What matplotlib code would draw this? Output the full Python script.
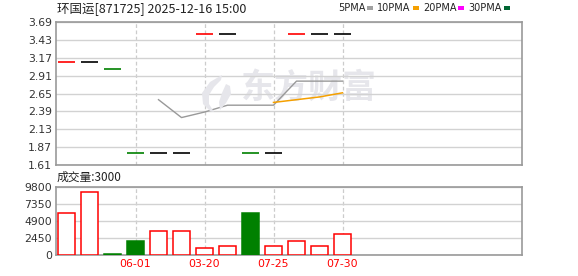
import matplotlib
matplotlib.use('Agg')
import matplotlib.pyplot as plt
from matplotlib.patches import Polygon, Rectangle

plt.rcParams['font.family'] = ['Noto Sans CJK SC', 'DejaVu Sans']

# ---- data ----
idx = list(range(13))
price = [3.11, 3.11, 3.01, 1.79, 1.79, 1.79, 3.52, 3.52, 1.79, 1.79, 3.52, 3.52, 3.52]
candle_colors = ['#ff0000', '#000000', '#008000', '#008000', '#000000', '#000000',
                 '#ff0000', '#000000', '#008000', '#000000', '#ff0000', '#000000', '#000000']
volume = [6000, 9150, 200, 2000, 3500, 3500, 1000, 1400, 6000, 1400, 2000, 1400, 3000]
vol_up = [True, True, False, False, True, True, True, True, False, True, True, True, True]
ma5_x = [4, 5, 6, 7, 8, 9, 10, 11, 12]
ma5 = [2.56, 2.30, 2.38, 2.48, 2.48, 2.48, 2.83, 2.83, 2.83]
ma10_x = [9, 10, 11, 12]
ma10 = [2.52, 2.56, 2.60, 2.66]
xlabel_pos = [3, 6, 9, 12]
xlabels = ['06-01', '03-20', '07-25', '07-30']
price_ticks = [1.61, 1.87, 2.13, 2.39, 2.65, 2.91, 3.17, 3.43, 3.69]
vol_ticks = [0, 2450, 4900, 7350, 9800]
title = '环国运[871725] 2025-12-16 15:00'
vol_label = '成交量:3000'
legend_items = [('5PMA', '#a0a0a0'), ('10PMA', '#f5a000'), ('20PMA', '#ff00ff'), ('30PMA', '#006633')]

W, H = 578, 276
fig = plt.figure(figsize=(W / 100, H / 100), dpi=100)

def fx(px):
    return px / W

def fy(py):
    return 1 - py / H

L, R = 56, 522
ax = fig.add_axes([fx(L), fy(165), fx(R - L), fy(22) - fy(165)])
axv = fig.add_axes([fx(L), fy(255.3), fx(R - L), fy(187) - fy(255.3)])

slot = 23.0
x0 = -10.5 / slot
x1 = x0 + (R - L) / slot
bw = 0.7

grid_c = '#d2d2d2'
spine_c = '#999999'
for a in (ax, axv):
    a.set_xlim(x0, x1)
    for s in a.spines.values():
        s.set_color(spine_c)
        s.set_linewidth(1.2)
    a.tick_params(length=0, labelsize=7.8, colors='#333333', pad=3)
    for p in xlabel_pos:
        a.axvline(p, color='#cccccc', lw=0.9, ls=(0, (3, 2)), zorder=0)

# price panel
ax.set_ylim(price_ticks[0], price_ticks[-1])
ax.set_yticks(price_ticks)
ax.set_yticklabels(['%.2f' % t for t in price_ticks], family='DejaVu Sans')
ax.yaxis.grid(True, color=grid_c, lw=1, zorder=0)
ax.set_xticks([])

# watermark
wm_c = '#e6e6eb'
ax.text(0.542, 0.535, '东方财富', transform=ax.transAxes, fontsize=24.5, fontweight='bold',
        color=wm_c, ha='center', va='center', zorder=0.5)
leaf = [(222, 75), (210, 82), (202, 93), (203, 104), (210, 111), (214, 112),
        (209, 104), (209, 95), (214, 87), (221, 80)]
leaf2 = [(226, 84), (222, 93), (219, 102), (220, 110), (226, 103), (231, 94), (230, 86)]
for pts in (leaf, leaf2):
    fig.patches.append(Polygon([(fx(x), fy(y)) for x, y in pts], closed=True,
                               transform=fig.transFigure, facecolor=wm_c,
                               edgecolor='none', figure=fig, zorder=0.5))

for i, p, c in zip(idx, price, candle_colors):
    ax.hlines(p, i - bw / 2, i + bw / 2, colors=c, lw=1.2, zorder=3)
ax.plot(ma5_x, ma5, color='#999999', lw=1, zorder=4)
ax.plot(ma10_x, ma10, color='#f5a000', lw=1.1, zorder=4)

# volume panel
axv.set_ylim(0, vol_ticks[-1])
axv.set_yticks(vol_ticks)
axv.set_yticklabels([str(t) for t in vol_ticks], family='DejaVu Sans')
axv.yaxis.grid(True, color=grid_c, lw=1, zorder=0)
axv.set_xticks(xlabel_pos)
axv.set_xticklabels(xlabels, family='DejaVu Sans', color='#ff0000', fontsize=7.8)
for i, v, up in zip(idx, volume, vol_up):
    if up:
        axv.bar(i, v, width=bw, facecolor='white', edgecolor='#ff0000', lw=1.1, zorder=3)
    else:
        axv.bar(i, v, width=bw, facecolor='#008000', edgecolor='#008000', lw=1.1, zorder=3)

# texts
fig.text(fx(57), fy(9), title, fontsize=9, va='center', ha='left', color='#222222')
fig.text(fx(57), fy(177), vol_label, fontsize=8.5, va='center', ha='left', color='#222222')

lx = 338
for name, col in legend_items:
    t = fig.text(fx(lx), fy(8), name, fontsize=7.0, va='center', ha='left', color='#222222',
                 family='DejaVu Sans')
    fig.canvas.draw()
    wpx = t.get_window_extent().width
    sx = lx + wpx + 2
    fig.patches.append(Rectangle((fx(sx), fy(10)), fx(6), fy(6) - fy(10), transform=fig.transFigure,
                                 facecolor=col, edgecolor='none', figure=fig))
    lx = sx + 10

fig.savefig('out.png', dpi=100)
